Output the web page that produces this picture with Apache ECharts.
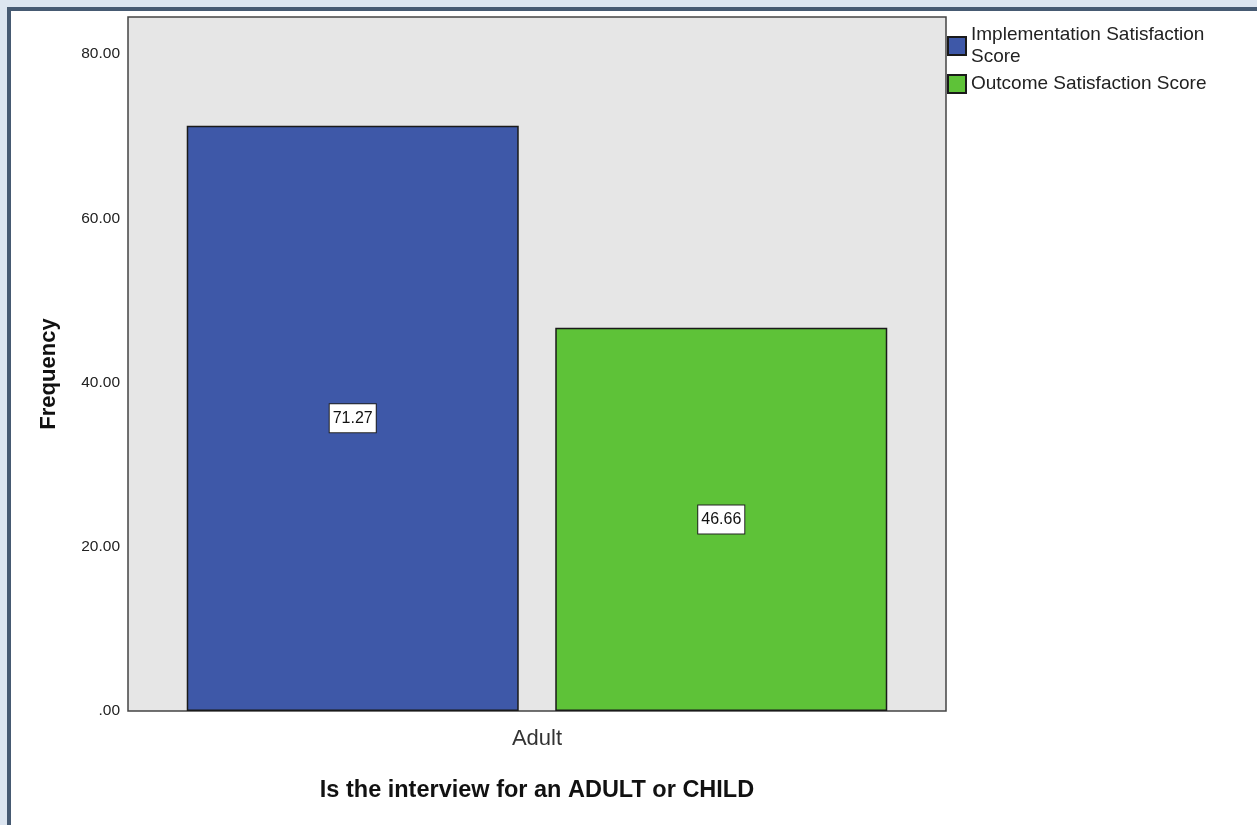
<!DOCTYPE html>
<html>
<head>
<meta charset="utf-8">
<script src="https://cdn.jsdelivr.net/npm/echarts@6/dist/echarts.min.js"></script>
<style>
html,body{margin:0;padding:0;width:1257px;height:825px;overflow:hidden;background:#dce5f0;}
#frame{position:absolute;left:7px;top:7px;width:1300px;height:900px;border:4px solid #465a72;background:#fff;}
#chart{position:absolute;left:0;top:0;width:1257px;height:825px;}
</style>
</head>
<body>
<div id="frame"></div>
<div id="chart"></div>
<script>
const categories = ['Adult'];
const seriesNames = ['Implementation Satisfaction Score', 'Outcome Satisfaction Score'];
const implementationValues = [71.27];
const outcomeValues = [46.66];
const yTickValues = [0, 20, 40, 60, 80];

const FONT = 'Liberation Sans, Arial, sans-serif';
const chart = echarts.init(document.getElementById('chart'));

const labelStyle = {
  show: true,
  position: 'inside',
  formatter: p => p.value.toFixed(2),
  backgroundColor: '#fff',
  borderColor: '#222',
  borderWidth: 1,
  padding: [7, 3, 5, 3],
  color: '#111',
  fontFamily: FONT,
  fontSize: 16
};

chart.setOption({
  animation: false,
  backgroundColor: 'transparent',
  grid: {
    left: 128, top: 17, width: 818, height: 694,
    show: true, backgroundColor: '#e6e6e6', borderColor: '#444', borderWidth: 1.5
  },
  legend: {
    orient: 'vertical',
    left: 947, top: 24,
    padding: 0,
    icon: 'rect',
    itemWidth: 18, itemHeight: 18, itemGap: 5,
    data: seriesNames,
    formatter: n => n === seriesNames[0] ? 'Implementation Satisfaction\nScore' : n,
    textStyle: { fontFamily: FONT, fontSize: 19, lineHeight: 22, color: '#222' }
  },
  xAxis: {
    type: 'category',
    data: categories,
    axisLine: { show: false },
    axisTick: { show: false },
    axisLabel: { fontFamily: FONT, fontSize: 22, color: '#333', margin: 17 },
    name: 'Is the interview for an ADULT or CHILD',
    nameLocation: 'middle',
    nameGap: 68,
    nameTextStyle: { fontFamily: FONT, fontSize: 23.5, fontWeight: 'bold', color: '#111' }
  },
  yAxis: {
    type: 'value',
    min: 0, max: 84.5, interval: 20,
    axisLine: { show: false },
    axisTick: { show: false },
    splitLine: { show: false },
    axisLabel: {
      showMaxLabel: false,
      fontFamily: FONT, fontSize: 15.5, color: '#222', margin: 8,
      formatter: v => yTickValues.includes(v) ? (v === 0 ? '.00' : v.toFixed(2)) : ''
    },
    name: 'Frequency',
    nameLocation: 'middle',
    nameRotate: 90,
    nameGap: 68,
    nameTextStyle: { fontFamily: FONT, fontSize: 22, fontWeight: 'bold', color: '#111', padding: [0, 20, 0, 0] }
  },
  series: [
    {
      name: seriesNames[0], type: 'bar', data: implementationValues,
      barWidth: 332, barGap: '11%',
      itemStyle: { color: '#3e58a8', borderColor: '#1a1a1a', borderWidth: 1.5 },
      label: labelStyle
    },
    {
      name: seriesNames[1], type: 'bar', data: outcomeValues,
      barWidth: 332, barGap: '11%',
      itemStyle: { color: '#5ec238', borderColor: '#1a1a1a', borderWidth: 1.5 },
      label: labelStyle
    }
  ]
});
</script>
</body>
</html>
